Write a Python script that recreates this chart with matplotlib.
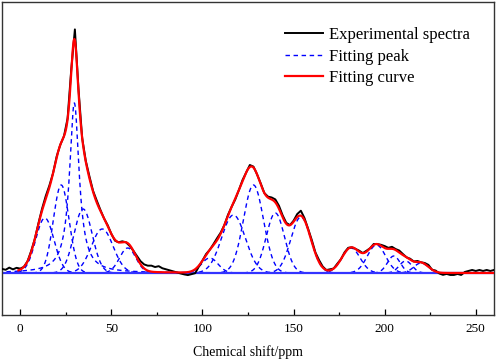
import numpy as np
import matplotlib
matplotlib.use("Agg")
import matplotlib.pyplot as plt
from matplotlib.ticker import MultipleLocator

plt.rcParams['font.family'] = ['Liberation Serif', 'DejaVu Serif']

# Fitted peaks (centre ppm, height, width ppm, Lorentzian fraction)
peak_center = [13.5, 22.5, 29.7, 34.5, 45, 59, 104, 117, 128, 140, 154, 181.5, 195.5, 205, 211.5, 220]
peak_height = [55, 88, 170, 64, 44, 25, 15, 58, 88, 60, 56, 25, 28, 17, 12, 10]
peak_width = [5, 4.3, 3.2, 5, 6, 4.5, 4.5, 6.5, 5.5, 5, 5.5, 5, 5, 3.5, 3.5, 4]
peak_lorentz = [0, 0, 1, 0, 0, 0, 0, 0, 0, 0, 0, 0, 0, 0, 0, 0]

# Experimental spectrum: deviation from the fitted curve, read every 2 ppm from -10 to 260
exp_start, exp_step = -10, 2
exp_residual = [3, 2, 4, 2, 3, 1, 0, 0, 1, 0,
                1, 2, 3, 2, 0, 1, 0, 0, 1, 3,
                11, 3, 0, 1, 2, 1, 2, 1, 0, 1,
                0, -1, 0, 1, 0, -1, 0, 2, 3, 4,
                5, 6, 5, 6, 4, 3, 2, 1, 0, -1,
                -2, -3, -3, -4, -1, 0, 1, 0, 1, 2,
                1, 0, 1, 0, -1, 0, 1, 0, 2, 1,
                0, 1, 0, 1, 2, 3, 3, 2, 1, 0,
                1, 3, 5, 2, 1, 2, 1, 2, 1, 0,
                1, 0, 1, 0, 1, 1, 0, 0, 1, 0,
                1, 0, 1, 0, 1, 2, 1, 2, 1, 2,
                1, 0, 1, 0, 1, 0, 1, 2, 0, 1,
                -1, -2, -1, -2, -2, -1, -2, 1, 2, 3,
                2, 3, 2, 3, 2, 3]

xticks = [0, 50, 100, 150, 200, 250]
legend_labels = ["Experimental spectra", "Fitting peak", "Fitting curve"]
xlabel = "Chemical shift/ppm"


def peak(x, c, h, w, eta):
    g = np.exp(-(x - c) ** 2 / (2 * w ** 2))
    lz = 1.0 / (1.0 + ((x - c) / w) ** 2)
    return h * ((1 - eta) * g + eta * lz)


def fit_sum(x):
    return sum(peak(x, c, h, w, e) for c, h, w, e in
               zip(peak_center, peak_height, peak_width, peak_lorentz))


fig = plt.figure(figsize=(4.98, 3.61), dpi=100)
ax = fig.add_axes([2 / 498, 1 - 315 / 361, 492 / 498, 313 / 361])

xf = np.linspace(-10, 260, 2701)
for i, (c, h, w, e) in enumerate(zip(peak_center, peak_height, peak_width, peak_lorentz)):
    ax.plot(xf, peak(xf, c, h, w, e), color='#0000FF', lw=1.0,
            linestyle=(i * 1.3, (3.2, 2.6)), zorder=2,
            label=legend_labels[1] if i == 0 else None)
ax.axhline(0, color='#3333FF', lw=1.6, zorder=2)

xe = exp_start + exp_step * np.arange(len(exp_residual))
ye = fit_sum(xe) + np.array(exp_residual, dtype=float)
ax.plot(xe, ye, color='black', lw=1.4, zorder=3, label=legend_labels[0])

xc = np.linspace(-1, 260, 2611)
ax.plot(xc, fit_sum(xc), color='#FF0000', lw=1.6, zorder=4, label=legend_labels[2])

ax.set_xlim(-10, 260)
ax.set_ylim(-42, 271)
ax.set_xticks(xticks)
ax.xaxis.set_minor_locator(MultipleLocator(25))
ax.set_yticks([])
ax.tick_params(axis='x', which='major', direction='in', length=4, width=0.9, labelsize=9.5, pad=6)
ax.tick_params(axis='x', which='minor', direction='in', length=2.5, width=0.9)
for sp in ax.spines.values():
    sp.set_linewidth(1.0)
    sp.set_color('#333333')
ax.set_xlabel(xlabel, fontsize=10, labelpad=7)

h, l = ax.get_legend_handles_labels()
order = [l.index(t) for t in legend_labels]
ax.legend([h[i] for i in order], [l[i] for i in order], loc='upper left',
          bbox_to_anchor=(0.575, 0.92), frameon=False, fontsize=12,
          handlelength=2.3, handletextpad=0.35, labelspacing=0.33,
          borderpad=0, borderaxespad=0)

fig.savefig('out.png', dpi=100)
